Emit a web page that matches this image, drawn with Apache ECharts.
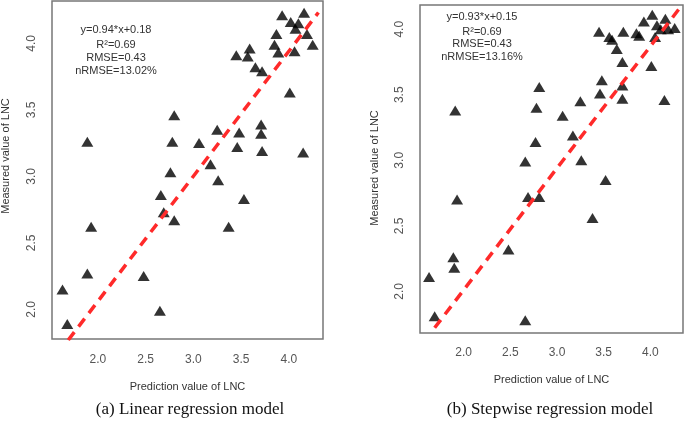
<!DOCTYPE html>
<html>
<head>
<meta charset="utf-8">
<script src="https://cdn.jsdelivr.net/npm/echarts@6/dist/echarts.min.js"></script>
<style>
html,body{margin:0;padding:0;background:#fff;}
#chart{width:685px;height:434px;}
</style>
</head>
<body>
<div id="chart"></div>
<script>
// Panel (a): Linear regression model
var predA = [1.89,2.80,2.78,2.76,2.66,3.06,3.25,3.18,3.26,3.48,3.46,3.45,3.57,3.59,3.65,3.72,3.71,3.71,3.72,3.53,3.87,3.85,3.89,3.93,4.02,4.10,4.07,4.16,4.19,4.25,4.06,4.01,4.15,2.69,2.80,3.37,1.93,1.89,1.63,1.68,2.48,2.65];
var measA = [3.26,3.46,3.26,3.03,2.86,3.25,3.35,3.09,2.97,3.33,3.22,3.91,3.90,3.96,3.82,3.79,3.39,3.32,3.19,2.83,4.07,3.99,3.93,4.21,4.16,4.15,4.11,4.23,4.07,3.99,3.94,3.63,3.18,2.73,2.67,2.62,2.62,2.27,2.15,1.89,2.25,1.99];
// Panel (b): Stepwise regression model
var predB = [1.91,2.81,2.78,2.77,2.66,3.06,3.25,3.17,3.26,3.52,3.48,3.46,3.70,3.70,3.45,3.56,3.59,3.64,3.71,3.70,3.85,3.88,4.01,4.02,3.93,4.07,4.16,4.05,4.19,4.26,4.15,4.11,2.69,2.81,1.93,3.38,2.48,1.89,1.90,1.63,1.69,2.66];
var measB = [3.38,3.56,3.40,3.14,2.99,3.34,3.45,3.19,3.00,2.85,3.61,3.51,3.57,3.47,3.98,3.94,3.92,3.85,3.98,3.75,3.97,3.95,3.72,4.11,4.06,4.03,4.08,3.94,4.00,4.01,3.46,4.00,2.72,2.72,2.70,2.56,2.32,2.26,2.18,2.11,1.81,1.78];
// Fit lines
var fitA = {slope:0.94, intercept:0.18, from:1.69, to:4.31};
var fitB = {slope:0.93, intercept:0.15, from:1.69, to:4.32};
// Tick labels
var xTicks = [2.0,2.5,3.0,3.5,4.0];
var yTicks = [2.0,2.5,3.0,3.5,4.0];
// Text
var statsA = ['y=0.94*x+0.18','R\u00B2=0.69','RMSE=0.43','nRMSE=13.02%'];
var statsB = ['y=0.93*x+0.15','R\u00B2=0.69','RMSE=0.43','nRMSE=13.16%'];
var xName = 'Prediction value of LNC';
var yName = 'Measured value of LNC';
var captions = ['(a) Linear regression model','(b) Stepwise regression model'];

function zip(xs, ys){ return xs.map(function(x,i){ return [x, ys[i]]; }); }
function fitLine(f){ return [[f.from, f.slope*f.from+f.intercept],[f.to, f.slope*f.to+f.intercept]]; }

var sans = 'Liberation Sans, Arial, sans-serif';
var serif = 'Liberation Serif, Times New Roman, serif';

function xAxisCfg(gi, min, max, margin, gap){
  return {gridIndex:gi, type:'value', min:min, max:max,
    axisLine:{show:false}, axisTick:{show:false}, splitLine:{show:false},
    axisLabel:{customValues:xTicks, formatter:function(v){return v.toFixed(1);}, color:'#555', fontSize:12, fontFamily:sans, margin:margin},
    name:xName, nameLocation:'middle', nameGap:gap,
    nameTextStyle:{color:'#333', fontSize:11, fontFamily:sans}};
}
function yAxisCfg(gi, min, max, margin){
  return {gridIndex:gi, type:'value', min:min, max:max,
    axisLine:{show:false}, axisTick:{show:false}, splitLine:{show:false},
    axisLabel:{customValues:yTicks, formatter:function(v){return v.toFixed(1);}, rotate:90, color:'#555', fontSize:12, fontFamily:sans, margin:margin}};
}
function statText(lines, cx, ys){
  return lines.map(function(t,i){
    return {type:'text', x:cx, y:ys[i], style:{text:t, align:'center', verticalAlign:'middle', fill:'#333', fontSize:11, fontFamily:sans}};
  });
}

var chart = echarts.init(document.getElementById('chart'));
var option = {
  animation:false,
  backgroundColor:'#fff',
  grid:[
    {left:52, top:1, width:271, height:338, show:true, borderColor:'#777', borderWidth:1.5, backgroundColor:'transparent', containLabel:false, outerBoundsMode:'none'},
    {left:420, top:5, width:263, height:328, show:true, borderColor:'#777', borderWidth:1.5, backgroundColor:'transparent', containLabel:false, outerBoundsMode:'none'}
  ],
  xAxis:[ xAxisCfg(0, 1.520, 4.358, 15, 42), xAxisCfg(1, 1.533, 4.349, 14, 41) ],
  yAxis:[ yAxisCfg(0, 1.777, 4.318, 14), yAxisCfg(1, 1.682, 4.185, 14) ],
  series:[
    {type:'scatter', xAxisIndex:0, yAxisIndex:0, data:zip(predA, measA), symbol:'triangle', symbolSize:[12,10], itemStyle:{color:'#000'}, z:2},
    {type:'scatter', xAxisIndex:1, yAxisIndex:1, data:zip(predB, measB), symbol:'triangle', symbolSize:[12,10], itemStyle:{color:'#000'}, z:2},
    {type:'line', xAxisIndex:0, yAxisIndex:0, data:fitLine(fitA), showSymbol:false, symbol:'none', lineStyle:{color:'#ff2a2a', width:3.5, type:[10,7]}, z:3},
    {type:'line', xAxisIndex:1, yAxisIndex:1, data:fitLine(fitB), showSymbol:false, symbol:'none', lineStyle:{color:'#ff2a2a', width:3.5, type:[10,7]}, z:3}
  ],
  graphic: [].concat(
    statText(statsA, 116, [30, 45, 58, 71]),
    statText(statsB, 482, [17, 32, 44, 57]),
    [
      {type:'text', x:6, y:156, rotation:Math.PI/2, style:{text:yName, align:'center', verticalAlign:'middle', fill:'#333', fontSize:11, fontFamily:sans}},
      {type:'text', x:375, y:168, rotation:Math.PI/2, style:{text:yName, align:'center', verticalAlign:'middle', fill:'#333', fontSize:11, fontFamily:sans}},
      {type:'text', x:190, y:410, style:{text:captions[0], align:'center', verticalAlign:'middle', fill:'#111', fontSize:17, fontFamily:serif}},
      {type:'text', x:550, y:410, style:{text:captions[1], align:'center', verticalAlign:'middle', fill:'#111', fontSize:17, fontFamily:serif}}
    ]
  )
};
chart.setOption(option);
</script>
</body>
</html>
